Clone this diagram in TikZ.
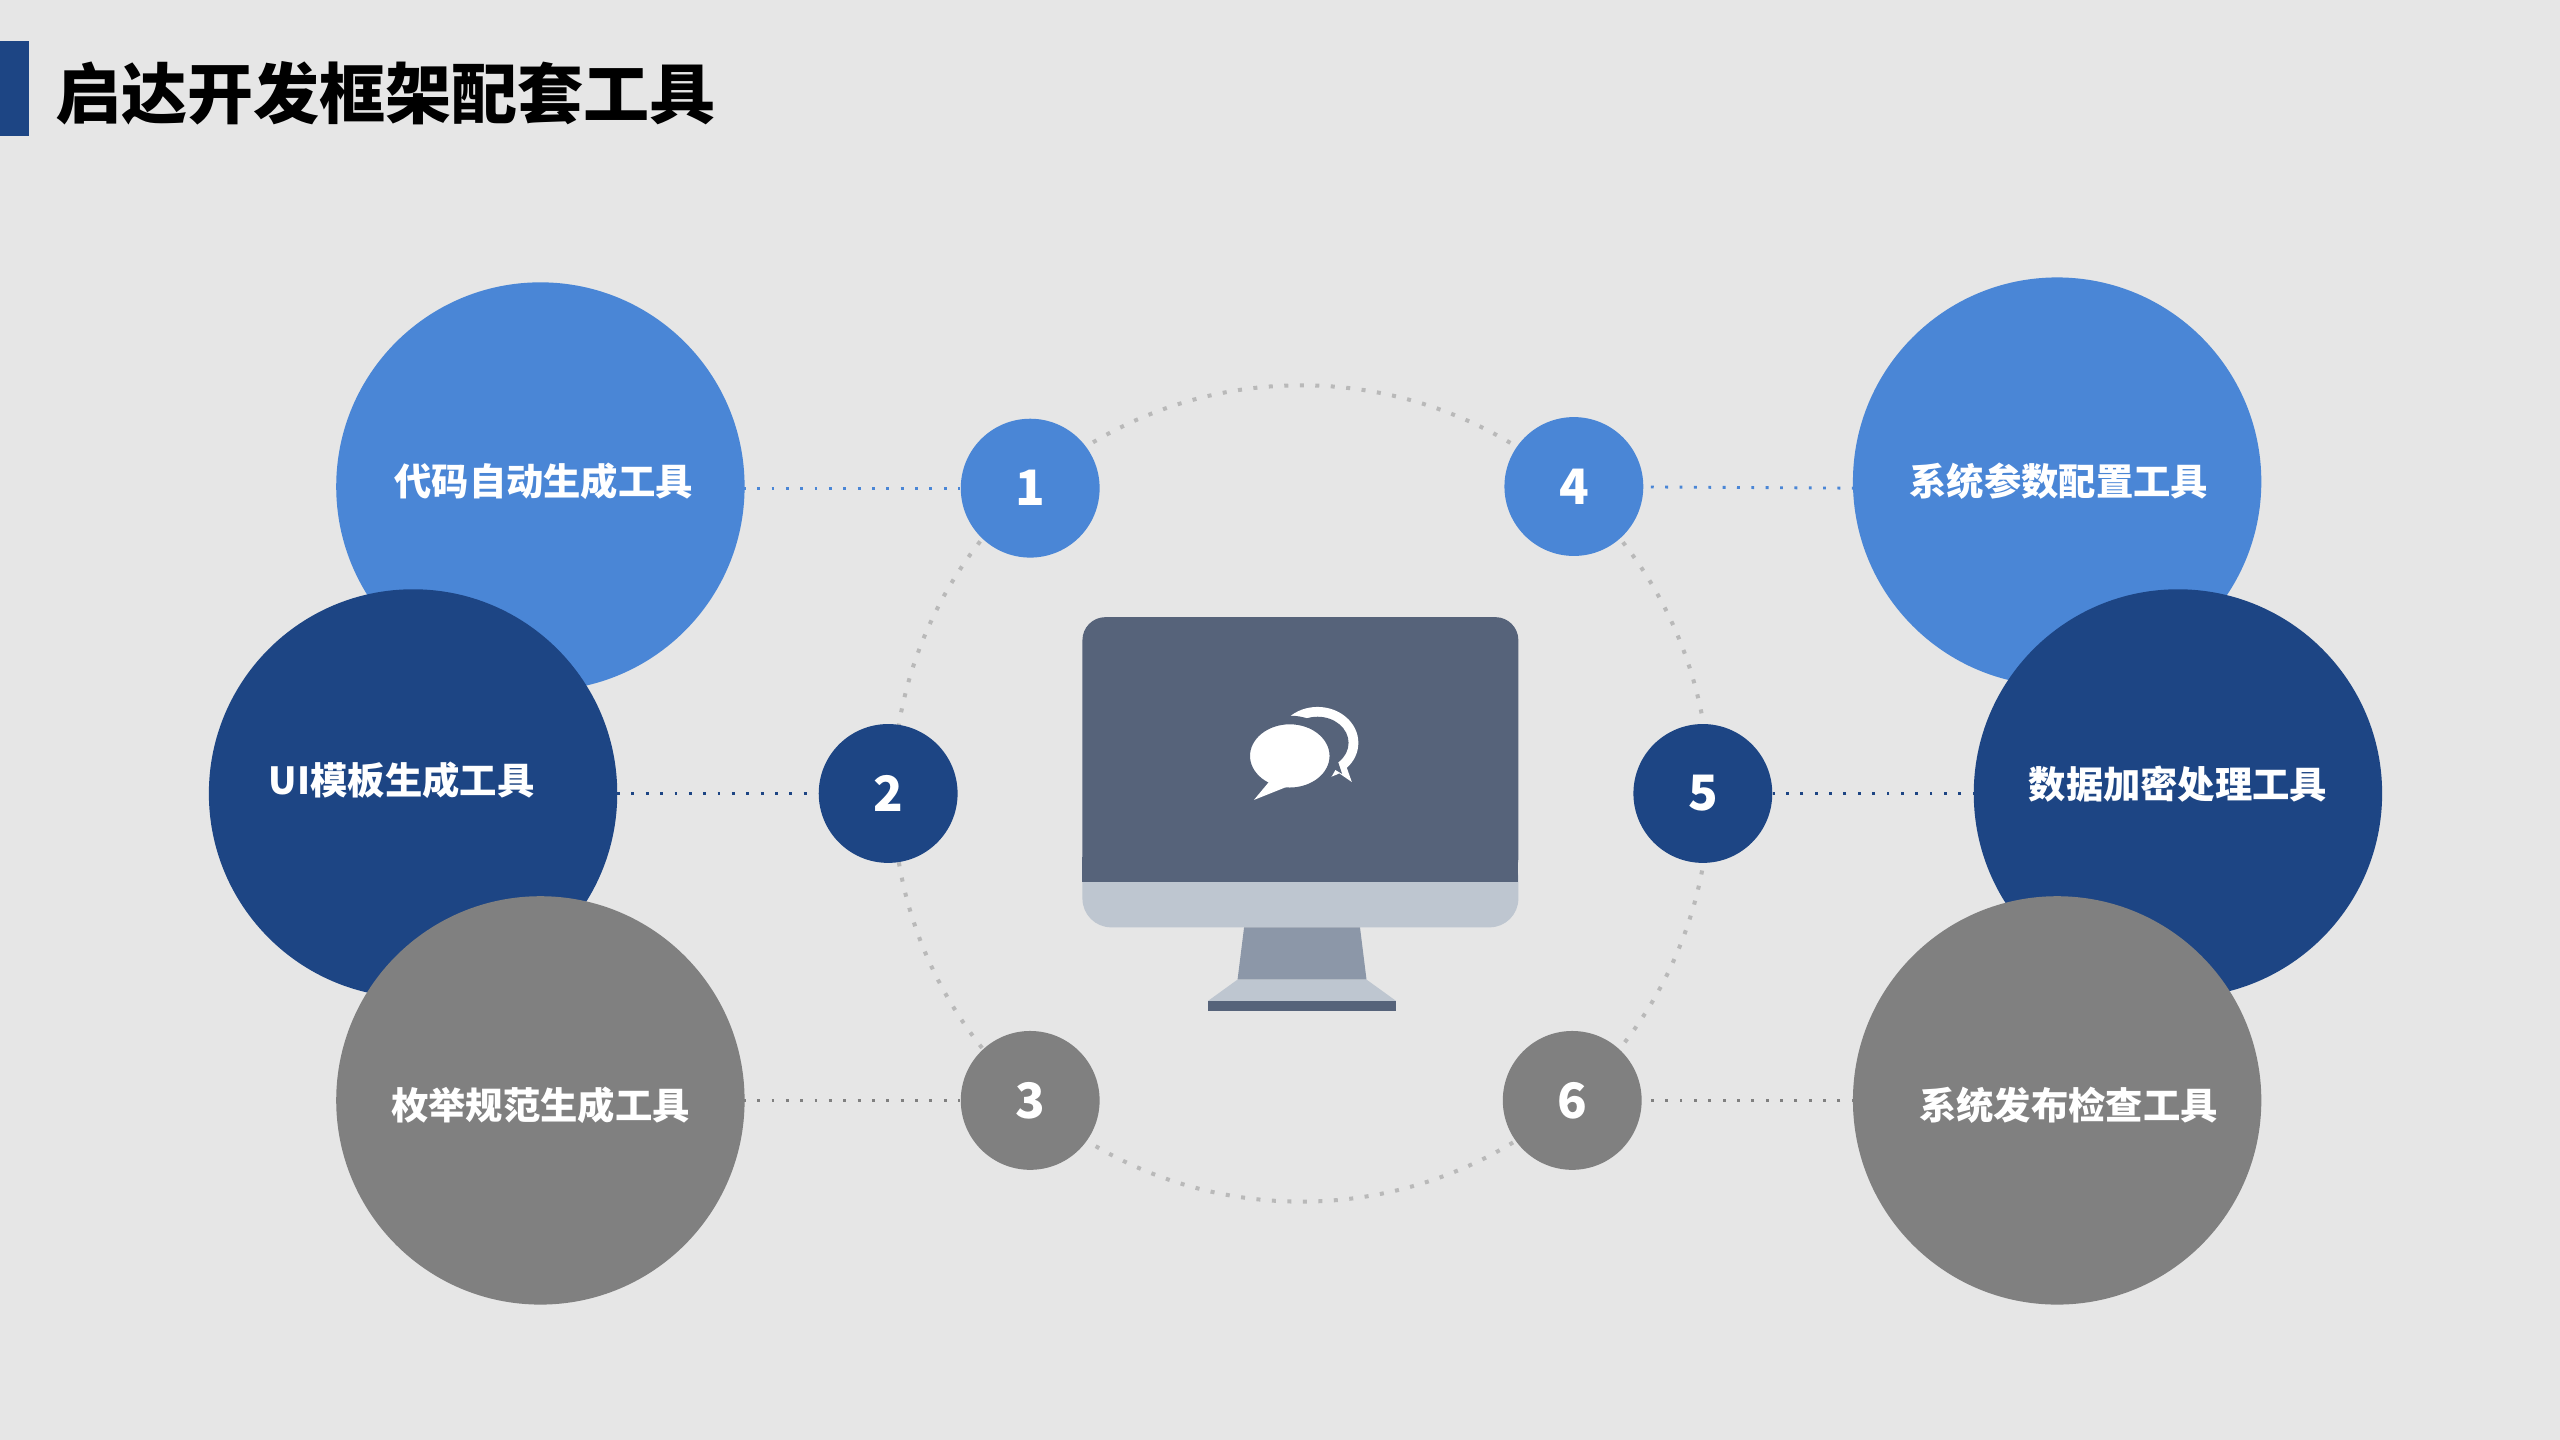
\documentclass[tikz,border=0pt]{standalone}
\usepackage{fontspec}
\setmainfont{Noto Sans CJK SC}
\definecolor{bg}{HTML}{E6E6E6}
\definecolor{lb}{HTML}{4A86D6}
\definecolor{db}{HTML}{1D4584}
\definecolor{gr}{HTML}{808080}
\definecolor{scr}{HTML}{56637A}
\definecolor{bez}{HTML}{BEC6D0}
\definecolor{stand}{HTML}{8C97A8}
\begin{document}
\begin{tikzpicture}[x=0.01cm,y=-0.01cm,
  big/.style={circle,minimum size=250\pgflinewidth*0+2.5cm,inner sep=0pt,text=white,font=\bfseries\fontsize{6.5}{7}\selectfont},
  num/.style={circle,minimum size=0.85cm,inner sep=0pt,text=white,font=\bfseries\fontsize{8.5}{9}\selectfont},
  link/.style={dotted,line width=0.5pt}]
\fill[bg] (0,0) rectangle (1568,882);
\useasboundingbox (0,0) rectangle (1568,882);
\fill[db] (0,25) rectangle (18,83);
\node[anchor=west,font=\bfseries\fontsize{11.5}{12}\selectfont,inner sep=0pt] (title) at (33,57) {启达开发框架配套工具};
\draw[gray!55,dotted,line width=0.7pt] (797,486) circle (250);
% big circles
\node[big,fill=lb] (L1) at (331,298) {};
\node[big,fill=db] (L2) at (253,486) {};
\node[big,fill=gr] (L3) at (331,674) {};
\node[big,fill=lb] (R1) at (1260,295) {};
\node[big,fill=db] (R2) at (1334,486) {};
\node[big,fill=gr] (R3) at (1260,674) {};
\node[text=white,font=\bfseries\fontsize{6.5}{7}\selectfont] (t1) at (333,295) {代码自动生成工具};
\node[text=white,font=\bfseries\fontsize{6.5}{7}\selectfont] (t2) at (246,478) {UI模板生成工具};
\node[text=white,font=\bfseries\fontsize{6.5}{7}\selectfont] (t3) at (331,677) {枚举规范生成工具};
\node[text=white,font=\bfseries\fontsize{6.5}{7}\selectfont] (t4) at (1261,295) {系统参数配置工具};
\node[text=white,font=\bfseries\fontsize{6.5}{7}\selectfont] (t5) at (1334,480) {数据加密处理工具};
\node[text=white,font=\bfseries\fontsize{6.5}{7}\selectfont] (t6) at (1267,677) {系统发布检查工具};
% small circles
\node[num,fill=lb] (n1) at (631,299) {1};
\node[num,fill=db] (n2) at (544,486) {2};
\node[num,fill=gr] (n3) at (631,674) {3};
\node[num,fill=lb] (n4) at (964,298) {4};
\node[num,fill=db] (n5) at (1043,486) {5};
\node[num,fill=gr] (n6) at (963,674) {6};
\coordinate (a1) at (455,299); \coordinate (a2) at (378,486); \coordinate (a3) at (455,674);
\coordinate (a4) at (1136,299); \coordinate (a5) at (1210,486); \coordinate (a6) at (1136,674);
\draw[link,lb] (a1) -- (n1); \draw[link,db] (a2) -- (n2); \draw[link,gr] (a3) -- (n3);
\draw[link,lb] (a4) -- (n4); \draw[link,db] (a5) -- (n5); \draw[link,gr] (a6) -- (n6);
% monitor
\fill[bez,rounded corners=5] (663,520) rectangle (930,568);
\fill[scr,rounded corners=4] (663,378) rectangle (930,540);
\fill[scr] (663,525) rectangle (930,540);
\fill[stand] (762,568) -- (833,568) -- (837,600) -- (758,600) -- cycle;
\fill[bez] (758,600) -- (837,600) -- (855,613) -- (740,613) -- cycle;
\fill[scr] (740,613) rectangle (855,619);
% bubbles
\fill[white] (807,455) ellipse (25 and 22);
\fill[white] (815,470) -- (828,479) -- (822,462) -- cycle;
\fill[scr] (807,455) ellipse (19 and 16);
\fill[scr] (812,468) -- (822,474) -- (818,462) -- cycle;
\fill[white,draw=scr,line width=1.5pt] (790,463) ellipse (27 and 22);
\fill[white] (778,478) -- (768,490) -- (788,482) -- cycle;
\end{tikzpicture}
\end{document}
